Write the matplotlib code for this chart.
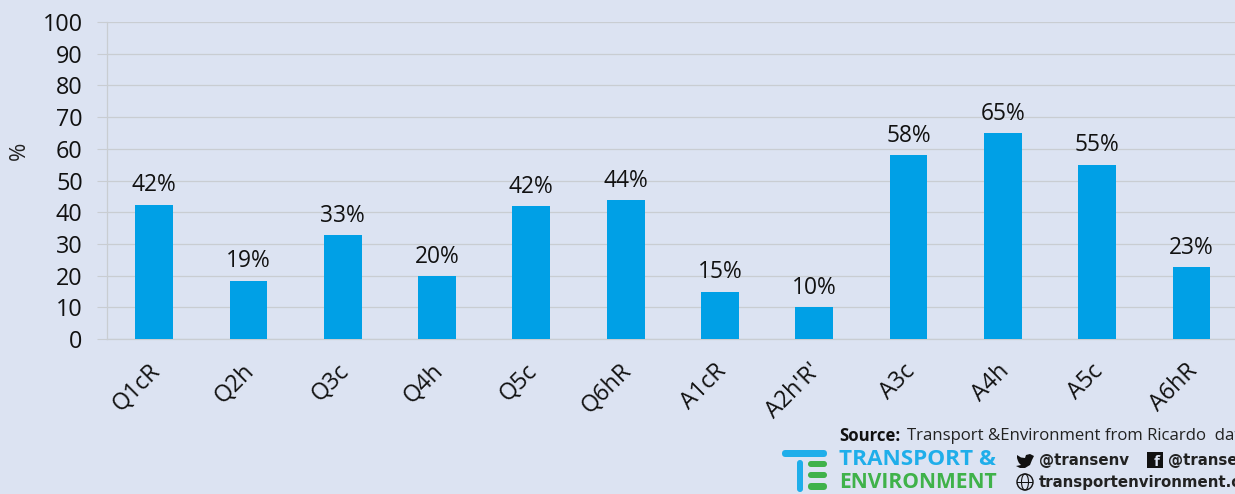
import matplotlib
matplotlib.use('Agg')
import matplotlib.pyplot as plt
from matplotlib.patches import Rectangle, FancyBboxPatch, Circle, Ellipse, Polygon
from matplotlib.transforms import ScaledTranslation

categories = ['Q1cR', 'Q2h', 'Q3c', 'Q4h', 'Q5c', 'Q6hR', 'A1cR', "A2h'R'", 'A3c', 'A4h', 'A5c', 'A6hR']
values = [42.3, 18.4, 32.8, 19.8, 41.8, 43.7, 14.9, 10, 58, 65, 55, 22.6]
value_labels = ['42%', '19%', '33%', '20%', '42%', '44%', '15%', '10%', '58%', '65%', '55%', '23%']
y_ticks = [0, 10, 20, 30, 40, 50, 60, 70, 80, 90, 100]

W, H = 1235, 494
BG = '#DCE3F2'
BAR = '#00A0E6'
GRID = '#C9CDD2'
LOGO_BLUE = '#1FAEEA'
LOGO_GREEN = '#3FB24A'

plt.rcParams['font.family'] = ['Open Sans', 'DejaVu Sans']

# Helpers to place the footer in image pixels
def fx(x):
	return x / W

def fy(y):
	return 1 - y / H

def px_text(fig, x, y, s, size, **kw):
	return fig.text(fx(x), fy(y), s, fontsize=size * 0.72, va='center', ha='left', **kw)

def px_bar(fig, x0, y0, x1, y1, color):
	r = min(x1 - x0, y1 - y0) / 2.0
	fig.add_artist(FancyBboxPatch((x0, H - y1), x1 - x0, y1 - y0, boxstyle='round,pad=0,rounding_size=%f' % r,
		transform=None, fc=color, ec='none'))

fig = plt.figure(figsize=(W / 100, H / 100), dpi=100, facecolor=BG)
ax = fig.add_axes([fx(107), fy(339), 12 * 94.3 / W, (339 - 22) / H], facecolor=BG)
ax.patch.set_alpha(0)

positions = list(range(len(categories)))
ax.bar(positions, values, width=0.4, color=BAR, zorder=3)
ax.set_xlim(-0.5, 11.5)
ax.set_ylim(0, 100)

for pos, val, lab in zip(positions, values, value_labels):
	ax.annotate(lab, (pos, val), xytext=(0, 14), textcoords='offset points', ha='center', va='center',
		fontsize=16.4, color='#111111', zorder=4)

ax.set_yticks(y_ticks)
ax.set_xticks(positions)
ax.set_xticklabels(categories, rotation=45, ha='right', va='top', rotation_mode='anchor', fontsize=16.8, color='#111111')
ax.tick_params(axis='y', length=7, width=0.8, color=GRID, labelsize=16.8, labelcolor='#111111', pad=10.5)
ax.tick_params(axis='x', length=0, pad=14.5)
# nudge the slanted labels left, the anchor sits a bit off the bar centre
for lab in ax.get_xticklabels():
	lab.set_transform(lab.get_transform() + ScaledTranslation(-6 / 100, 0, fig.dpi_scale_trans))
ax.yaxis.grid(True, color=GRID, linewidth=0.9, zorder=0)
ax.set_axisbelow(True)
for side in ['top', 'right']:
	ax.spines[side].set_visible(False)
for side in ['left', 'bottom']:
	ax.spines[side].set_color(GRID)
	ax.spines[side].set_linewidth(0.9)

fig.text(fx(19), fy(151), '%', rotation=90, ha='center', va='center', fontsize=16, color='#222222')

# Source line, runs off the right edge like the original
px_text(fig, 839, 435.5, 'Source:', 16.8, fontweight='bold', color='#111111')
px_text(fig, 907, 435.5, 'Transport &Environment from Ricardo  data', 16.8, color='#222222')

# Logo
px_bar(fig, 782, 450, 827, 457, LOGO_BLUE)
px_bar(fig, 797, 460, 803, 492, LOGO_BLUE)
px_bar(fig, 808, 461, 827, 467, LOGO_GREEN)
px_bar(fig, 808, 472, 827, 478, LOGO_GREEN)
px_bar(fig, 808, 483, 827, 490, LOGO_GREEN)
px_text(fig, 839, 459, 'TRANSPORT &', 22.5, fontweight='bold', color=LOGO_BLUE)
px_text(fig, 839, 482, 'ENVIRONMENT', 21, fontweight='bold', color=LOGO_GREEN)

# Social icons and handles
bird = [(1034, 456), (1030, 454), (1026, 455), (1025, 458), (1021, 457.5), (1017, 455), (1017, 458), (1018, 461),
	(1019, 463), (1021, 465), (1016, 466), (1020, 468), (1025, 468), (1030, 465), (1032, 460), (1033, 458)]
fig.add_artist(Polygon([(x, H - y) for x, y in bird], closed=True, transform=None, fc='#111111', ec='none'))
px_text(fig, 1039, 460, '@transenv', 15, fontweight='bold', color='#222222', family='DejaVu Sans')
fig.add_artist(Rectangle((1147, H - 468), 16, 16, transform=None, fc='#111111', ec='none'))
fig.text(fx(1157), fy(461.5), 'f', fontsize=11, fontweight='bold', color=BG, ha='center', va='center')
px_text(fig, 1168, 460, '@transenv', 15, fontweight='bold', color='#222222', family='DejaVu Sans')
fig.add_artist(Circle((1025, H - 482), 8, transform=None, fc='none', ec='#111111', lw=1))
fig.add_artist(Ellipse((1025, H - 482), 7, 16, transform=None, fc='none', ec='#111111', lw=0.8))
fig.add_artist(Rectangle((1017, H - 482.5), 16, 1, transform=None, fc='#111111', ec='none'))
px_text(fig, 1039, 482, 'transportenvironment.org', 15, fontweight='bold', color='#222222', family='DejaVu Sans')

fig.savefig('out.png', dpi=100, facecolor=BG)
